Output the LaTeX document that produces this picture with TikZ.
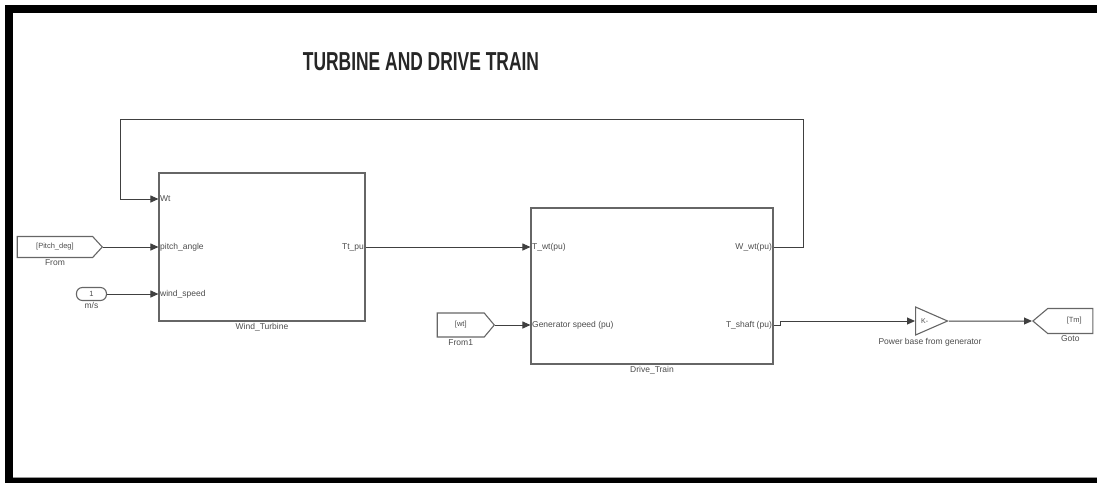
\documentclass[tikz,border=0pt]{standalone}
\usepackage{fontspec}
\setmainfont{Liberation Sans}
\usetikzlibrary{arrows.meta,shapes.geometric,shapes.symbols}

\tikzset{
  blk/.style={draw=black!60, line width=1.1pt, inner sep=0pt},
  lbl/.style={font=\fontsize{8.5}{9}\selectfont, text=black!70, inner sep=1.5pt},
  wire/.style={draw=black!75, line width=1pt},
  sig/.style={wire, -{Triangle[length=8pt,width=7pt]}},
  tagin/.style={blk, signal, signal to=east, signal from=nowhere, font=\fontsize{7.5}{8}\selectfont, text=black!70},
  tagout/.style={blk, signal, signal to=west, signal from=nowhere, font=\fontsize{7.5}{8}\selectfont, text=black!70},
}

\begin{document}
\begin{tikzpicture}[x=1pt,y=-1pt]
	\useasboundingbox (0,0) rectangle (1097,483);
	%cadre
	\fill[black] (5,5) rectangle (1097,13);
	\fill[black] (5,5) rectangle (13,483);
	\fill[black] (5,478) rectangle (1097,483);
	\draw[black!40, line width=1pt] (13,477.5) -- (1097,477.5);
	%titre
	\node[font=\bfseries\fontsize{26}{28}\selectfont, text=black!85] (titre) at (421,62) {\scalebox{0.67}[1]{TURBINE AND DRIVE TRAIN}};
	%blocs
	\node[blk, minimum width=206, minimum height=148] (turb) at (262,247) {};
	\node[lbl, below] (turblbl) at (turb.south) {Wind\_Turbine};
	\node[blk, minimum width=242, minimum height=156] (drv) at (652,286) {};
	\node[lbl, below] (drvlbl) at (drv.south) {Drive\_Train};
	%ports
	\coordinate (turbwt) at (turb.west |- 0,199);
	\coordinate (turbpitch) at (turb.west |- 0,247);
	\coordinate (turbwind) at (turb.west |- 0,294);
	\coordinate (turbtt) at (turb.east |- 0,247);
	\coordinate (drvtwt) at (drv.west |- 0,247);
	\coordinate (drvgen) at (drv.west |- 0,325);
	\coordinate (drvwwt) at (drv.east |- 0,247);
	\coordinate (drvtsh) at (drv.east |- 0,325);
	\node[lbl, right] (pwt) at (turbwt) {Wt};
	\node[lbl, right] (ppitch) at (turbpitch) {pitch\_angle};
	\node[lbl, right] (pwind) at (turbwind) {wind\_speed};
	\node[lbl, left] (ptt) at (turbtt) {Tt\_pu};
	\node[lbl, right] (ptwt) at (drvtwt) {T\_wt(pu)};
	\node[lbl, right] (pgen) at (drvgen) {Generator speed (pu)};
	\node[lbl, left] (pwwt) at (drvwwt) {W\_wt(pu)};
	\node[lbl, left] (ptsh) at (drvtsh) {T\_shaft (pu)};
	%sources
	\node[tagin, minimum width=85, minimum height=21, signal pointer angle=95, anchor=east] (pitch) at (103,247) {[Pitch\_deg]};
	\node[lbl, below] (pitchlbl) at (pitch.south) {From};
	\node[blk, rounded corners=6pt, minimum width=30, minimum height=13, anchor=east, font=\fontsize{7.5}{8}\selectfont, text=black!70] (cst) at (107,294) {1};
	\node[lbl, below] (cstlbl) at (cst.south) {m/s};
	\node[tagin, minimum width=57, minimum height=24, signal pointer angle=100, anchor=east] (wtag) at (495,325) {[wt]};
	\node[lbl, below] (wtaglbl) at (wtag.south) {From1};
	%gain et goto
	\node[blk, isosceles triangle, isosceles triangle stretches, minimum width=28, minimum height=32, anchor=west, font=\fontsize{7}{8}\selectfont, text=black!70] (gain) at (915,321) {K-};
	\node[lbl, below] (gainlbl) at (930,337) {Power base from generator};
	\node[tagout, minimum width=60, minimum height=25, signal pointer angle=80, anchor=west] (goto) at (1032,321) {\hspace*{8pt}[Tm]};
	\node[lbl, below] (gotolbl) at (goto.south) {Goto};
	%liaisons
	\draw[sig] (pitch.east) -- (turbpitch);
	\draw[sig] (cst.east) -- (turbwind);
	\draw[sig] (turbtt) -- (drvtwt);
	\draw[sig] (drvwwt) -- ++(30,0) |- (120,119) |- (turbwt);
	\draw[sig] (wtag.east) -- (drvgen);
	\draw[sig] (drvtsh) -- ++(7,0) |- (gain.west);
	\draw[sig] (gain.east) -- (goto.west);
\end{tikzpicture}
\end{document}
